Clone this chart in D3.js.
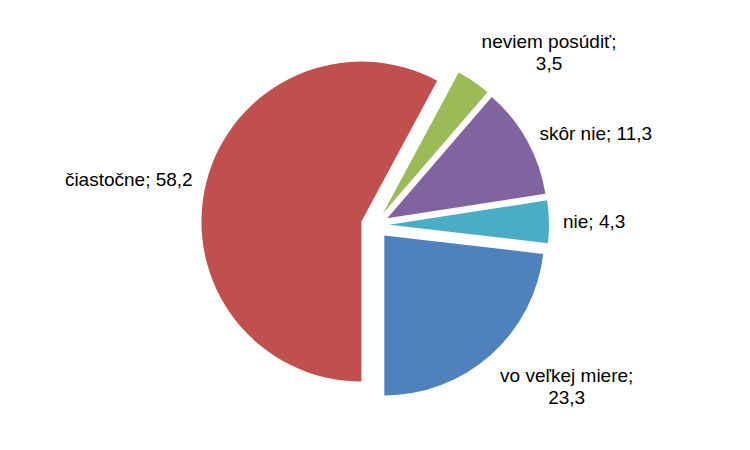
<!DOCTYPE html>
<html>
<head>
<meta charset="utf-8">
<script src="https://cdn.jsdelivr.net/npm/d3@7/dist/d3.min.js"></script>
<style>
  html, body { margin: 0; padding: 0; background: #fff; }
  svg text { font-family: "Liberation Sans", Arial, sans-serif; font-size: 19px; fill: #000; }
</style>
</head>
<body>
<svg id="chart" width="750" height="450"></svg>
<script>
// Data (clockwise order as drawn)
const categories = ["vo veľkej miere", "čiastočne", "neviem posúdiť", "skôr nie", "nie"];
const values = [23.3, 58.2, 3.5, 11.3, 4.3];
const colors = ["#4F81BD", "#C0504D", "#9BBB59", "#8064A2", "#4BACC6"];

const cx = 375, cy = 225, R = 160, explode = 14, labelGap = 14, lineH = 21.7;

const svg = d3.select("#chart");
const g = svg.append("g").attr("transform", `translate(${cx},${cy})`);

const total = d3.sum(values);
// first slice (blue) ends exactly at 180°
const start = Math.PI - (values[0] / total) * 2 * Math.PI;
const pie = d3.pie().sort(null).value(d => d.v).startAngle(start).endAngle(start + 2 * Math.PI);
const arcs = pie(categories.map((c, i) => ({ c, v: values[i], col: colors[i] })));
const arc = d3.arc().innerRadius(0).outerRadius(R);

const slices = g.selectAll("g.slice").data(arcs).enter().append("g")
  .attr("class", "slice")
  .attr("transform", d => {
    const a = (d.startAngle + d.endAngle) / 2;
    return `translate(${explode * Math.sin(a)},${-explode * Math.cos(a)})`;
  });

slices.append("path")
  .attr("d", arc)
  .attr("fill", d => d.data.col);

const fmt = v => String(v).replace(".", ",");

slices.each(function(d) {
  const a = (d.startAngle + d.endAngle) / 2;
  const s = Math.sin(a), c = -Math.cos(a);
  const ax = (R + labelGap) * s, ay = (R + labelGap) * c;
  const name = d.data.c;
  const lines = name.length > 12 ? [name + ";", fmt(d.data.v)] : [name + "; " + fmt(d.data.v)];
  const t = d3.select(this).append("text").attr("text-anchor", "middle");
  lines.forEach((l, i) => t.append("tspan").attr("x", 0).attr("dy", i === 0 ? 0 : lineH).text(l));
  const bb = t.node().getBBox();
  let bx;
  if (s > 0.3) bx = ax;
  else if (s < -0.3) bx = ax - bb.width;
  else bx = ax - bb.width / 2;
  let by;
  if (c < -0.5) by = ay - bb.height + 4;
  else if (c > 0.5) by = ay;
  else by = ay - bb.height / 2;
  t.attr("transform", `translate(${bx - bb.x},${by - bb.y})`);
});
</script>
</body>
</html>
